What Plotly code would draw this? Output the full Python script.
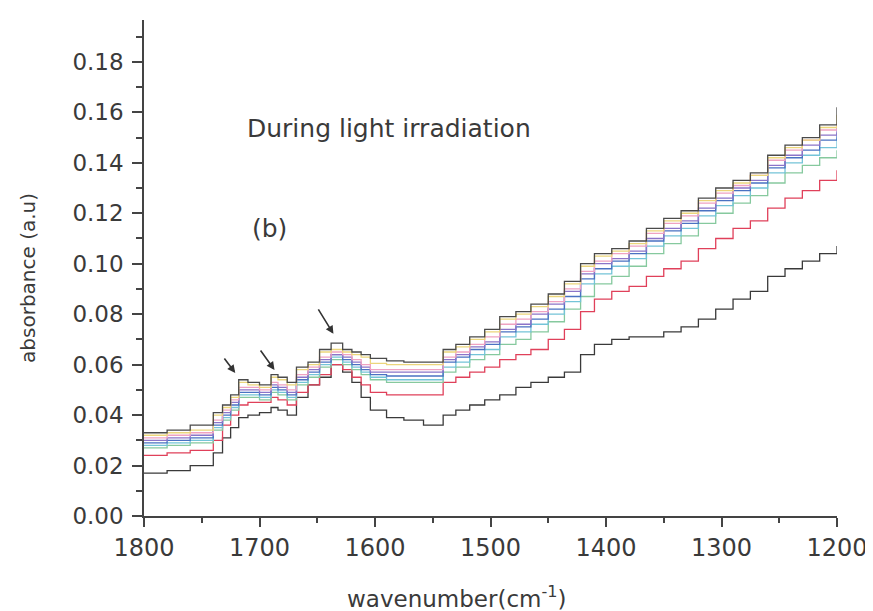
import plotly.graph_objects as go

wavenumber = [1800, 1780, 1760, 1740, 1732, 1725, 1718, 1710, 1700, 1690, 1684, 1676,
              1668, 1658, 1648, 1638, 1628, 1620, 1612, 1604, 1590, 1575, 1558, 1541,
              1530, 1518, 1505, 1492, 1478, 1465, 1450, 1436, 1422, 1410, 1395, 1380,
              1365, 1350, 1335, 1320, 1305, 1290, 1275, 1260, 1245, 1230, 1215, 1200]

s_black = [0.017, 0.018, 0.020, 0.025, 0.031, 0.035, 0.039, 0.040, 0.041, 0.043, 0.042, 0.040,
           0.047, 0.052, 0.055, 0.060, 0.057, 0.053, 0.047, 0.042, 0.039, 0.038, 0.036, 0.040,
           0.042, 0.044, 0.046, 0.048, 0.051, 0.053, 0.055, 0.057, 0.064, 0.068, 0.070, 0.071,
           0.071, 0.073, 0.075, 0.078, 0.082, 0.086, 0.089, 0.095, 0.098, 0.101, 0.104, 0.107]

s_red = [0.024, 0.025, 0.026, 0.030, 0.036, 0.040, 0.044, 0.045, 0.045, 0.047, 0.046, 0.044,
         0.049, 0.052, 0.056, 0.060, 0.058, 0.055, 0.052, 0.049, 0.048, 0.048, 0.048, 0.053,
         0.055, 0.057, 0.059, 0.062, 0.064, 0.066, 0.070, 0.074, 0.081, 0.086, 0.089, 0.091,
         0.095, 0.098, 0.101, 0.106, 0.110, 0.114, 0.117, 0.122, 0.126, 0.129, 0.133, 0.137]

s_green = [0.027, 0.028, 0.029, 0.034, 0.038, 0.042, 0.047, 0.047, 0.046, 0.049, 0.048, 0.046,
           0.052, 0.055, 0.059, 0.062, 0.060, 0.058, 0.056, 0.054, 0.053, 0.053, 0.053, 0.057,
           0.059, 0.062, 0.064, 0.068, 0.070, 0.073, 0.077, 0.082, 0.087, 0.092, 0.095, 0.099,
           0.104, 0.108, 0.111, 0.116, 0.120, 0.124, 0.127, 0.132, 0.136, 0.139, 0.142, 0.145]

s_cyan = [0.028, 0.029, 0.030, 0.035, 0.039, 0.043, 0.048, 0.048, 0.047, 0.050, 0.049, 0.047,
          0.053, 0.056, 0.060, 0.063, 0.061, 0.059, 0.057, 0.055, 0.054, 0.054, 0.054, 0.059,
          0.061, 0.064, 0.066, 0.071, 0.073, 0.076, 0.080, 0.085, 0.092, 0.096, 0.099, 0.102,
          0.107, 0.111, 0.114, 0.119, 0.123, 0.127, 0.130, 0.136, 0.140, 0.143, 0.146, 0.150]

s_blue = [0.029, 0.030, 0.031, 0.036, 0.040, 0.044, 0.049, 0.049, 0.048, 0.051, 0.050, 0.048,
          0.054, 0.057, 0.061, 0.064, 0.062, 0.060, 0.058, 0.056, 0.0555, 0.0555, 0.0555, 0.061,
          0.063, 0.066, 0.068, 0.073, 0.075, 0.078, 0.082, 0.087, 0.094, 0.098, 0.101, 0.104,
          0.109, 0.113, 0.116, 0.121, 0.125, 0.129, 0.132, 0.138, 0.142, 0.145, 0.149, 0.152]

s_purple = [0.030, 0.031, 0.032, 0.037, 0.041, 0.045, 0.050, 0.050, 0.049, 0.052, 0.051, 0.049,
            0.055, 0.058, 0.062, 0.064, 0.063, 0.061, 0.059, 0.057, 0.057, 0.057, 0.057, 0.062,
            0.064, 0.067, 0.069, 0.074, 0.076, 0.080, 0.084, 0.089, 0.096, 0.100, 0.102, 0.105,
            0.110, 0.114, 0.117, 0.122, 0.126, 0.130, 0.133, 0.139, 0.143, 0.147, 0.151, 0.154]

s_pink = [0.031, 0.032, 0.033, 0.038, 0.042, 0.046, 0.051, 0.051, 0.050, 0.053, 0.052, 0.050,
          0.056, 0.059, 0.063, 0.065, 0.064, 0.062, 0.060, 0.058, 0.058, 0.058, 0.058, 0.063,
          0.065, 0.068, 0.071, 0.076, 0.078, 0.081, 0.085, 0.090, 0.097, 0.101, 0.104, 0.107,
          0.112, 0.116, 0.119, 0.124, 0.128, 0.131, 0.135, 0.141, 0.145, 0.149, 0.153, 0.156]

s_yellow = [0.032, 0.033, 0.034, 0.040, 0.043, 0.047, 0.053, 0.052, 0.051, 0.055, 0.054, 0.052,
            0.058, 0.060, 0.065, 0.066, 0.065, 0.064, 0.063, 0.0605, 0.060, 0.060, 0.060, 0.065,
            0.067, 0.070, 0.073, 0.078, 0.080, 0.083, 0.087, 0.092, 0.099, 0.103, 0.105, 0.108,
            0.113, 0.117, 0.120, 0.125, 0.129, 0.132, 0.135, 0.142, 0.146, 0.149, 0.154, 0.159]

s_top = [0.033, 0.034, 0.036, 0.041, 0.044, 0.048, 0.054, 0.053, 0.052, 0.056, 0.055, 0.053,
         0.059, 0.061, 0.066, 0.0685, 0.066, 0.065, 0.064, 0.0625, 0.0615, 0.061, 0.061, 0.066,
         0.068, 0.071, 0.074, 0.079, 0.081, 0.084, 0.088, 0.093, 0.100, 0.104, 0.106, 0.109,
         0.114, 0.118, 0.121, 0.126, 0.130, 0.133, 0.136, 0.143, 0.147, 0.150, 0.155, 0.162]

series = [
    (s_black, "#3a3a3a"),
    (s_red, "#e0405a"),
    (s_green, "#86c99e"),
    (s_cyan, "#74c4d8"),
    (s_blue, "#4a72c2"),
    (s_purple, "#8c74c8"),
    (s_pink, "#f0a2c2"),
    (s_yellow, "#ecd67c"),
    (s_top, "#4a4a4a"),
]

fig = go.Figure()
for vals, col in series:
    fig.add_trace(go.Scatter(x=wavenumber, y=vals, mode="lines",
                             line=dict(color=col, width=1.3, shape="hv"),
                             showlegend=False, hoverinfo="skip"))

font_family = "DejaVu Sans"
txt_col = "#3a3a3a"

# page body has an 8px default margin, so the figure is drawn 8px smaller and offset
fig.update_layout(
    width=865, height=603,
    margin=dict(l=136, r=36, t=12, b=95, autoexpand=False),
    paper_bgcolor="white", plot_bgcolor="white",
    font=dict(family=font_family, color=txt_col),
    xaxis=dict(range=[1800, 1200], showgrid=False, zeroline=False, automargin=False,
               showline=True, linecolor="#444", linewidth=1.5,
               ticks="outside", ticklen=9, tickwidth=1.5, tickcolor="#444",
               tickvals=[1800, 1700, 1600, 1500, 1400, 1300, 1200],
               ticktext=["1800", "1700", "1600", "1500", "1400", "1300", "1200"],
               tickfont=dict(size=24, family=font_family, color=txt_col),
               minor=dict(tickvals=[1750, 1650, 1550, 1450, 1350, 1250],
                          ticks="outside", ticklen=5, tickwidth=1.5, tickcolor="#444"),
               ticklabelstandoff=0),
    yaxis=dict(range=[0, 0.1966], showgrid=False, zeroline=False, automargin=False,
               showline=True, linecolor="#444", linewidth=1.5,
               ticks="outside", ticklen=10, tickwidth=1.5, tickcolor="#444",
               tickvals=[0.0, 0.02, 0.04, 0.06, 0.08, 0.10, 0.12, 0.14, 0.16, 0.18],
               ticktext=["0.00", "0.02", "0.04", "0.06", "0.08", "0.10", "0.12", "0.14", "0.16", "0.18"],
               tickfont=dict(size=23, family=font_family, color=txt_col),
               minor=dict(tickvals=[0.01, 0.03, 0.05, 0.07, 0.09, 0.11, 0.13, 0.15, 0.17, 0.19],
                          ticks="outside", ticklen=6, tickwidth=1.5, tickcolor="#444"),
               ticklabelstandoff=4),
)

annotations = [
    dict(text="absorbance (a.u)", xref="paper", yref="paper", x=-0.1674, y=0.48,
         textangle=-90, showarrow=False, xanchor="center", yanchor="middle",
         font=dict(size=20, family=font_family, color=txt_col)),
    dict(text="wavenumber(cm<sup>-1</sup>)", xref="paper", yref="paper", x=0.4517, y=-0.163,
         showarrow=False, xanchor="center", yanchor="middle",
         font=dict(size=23, family=font_family, color=txt_col)),
    dict(text="During light irradiation", xref="paper", yref="paper", x=0.1457, y=0.782,
         showarrow=False, xanchor="left", yanchor="middle",
         font=dict(size=25, family=font_family, color=txt_col)),
    dict(text="(b)", xref="paper", yref="paper", x=0.153, y=0.5806,
         showarrow=False, xanchor="left", yanchor="middle",
         font=dict(size=25, family=font_family, color=txt_col)),
]
for hx, hy, ax, ay in [(1721, 0.0567, -12, -16), (1687, 0.0579, -15, -21), (1636, 0.0722, -16, -26)]:
    annotations.append(dict(x=hx, y=hy, xref="x", yref="y", ax=ax, ay=ay, text="",
                            showarrow=True, arrowhead=2, arrowsize=1, arrowwidth=1.6,
                            arrowcolor="#333"))
fig.update_layout(annotations=annotations)

fig.write_html("out.html")
